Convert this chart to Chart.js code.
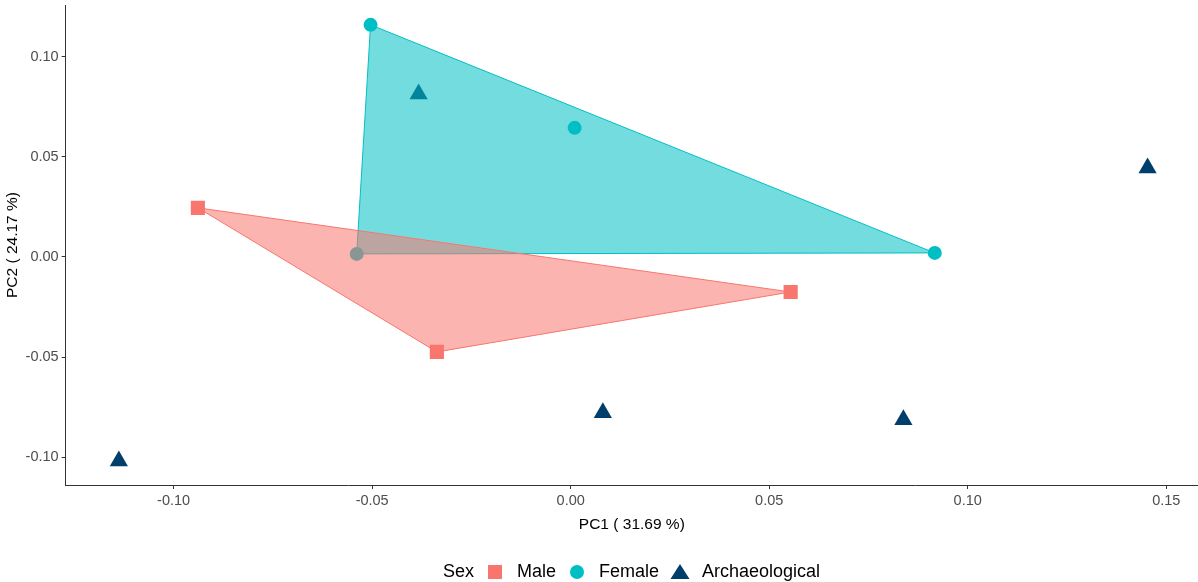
<!DOCTYPE html>
<html>
<head>
<meta charset="utf-8">
<script src="https://cdn.jsdelivr.net/npm/chart.js@4/dist/chart.umd.min.js"></script>
<style>
  html, body { margin: 0; padding: 0; background: #fff; }
  #wrap { width: 1198px; height: 582px; position: relative; }
</style>
</head>
<body>
<div id="wrap"><canvas id="pcaChart"></canvas></div>
<script>
// PCA scores
const maleX = [-0.0939, -0.0337, 0.0554];
const maleY = [0.0245, -0.0474, -0.0175];
const femaleX = [-0.0504, 0.0010, 0.0917, -0.0539];
const femaleY = [0.1158, 0.0644, 0.0020, 0.0015];
const archX = [-0.1138, -0.0383, 0.0081, 0.0838, 0.1453];
const archY = [-0.1018, 0.0813, -0.0778, -0.0813, 0.0444];

const xTicks = [-0.10, -0.05, 0.00, 0.05, 0.10, 0.15];
const yTicks = [-0.10, -0.05, 0.00, 0.05, 0.10];

const colors = {
  male: "#F8766D",
  female: "#00BFC4",
  arch: "#003F6B",
};
const FONT = "'Liberation Sans', Arial, sans-serif";

function toPoints(xs, ys) {
  return xs.map((x, i) => ({ x: x, y: ys[i] }));
}

// convex hull (monotone chain), closed by repeating the first vertex
function hull(points) {
  const p = [...points].sort((a, b) => a.x - b.x || a.y - b.y);
  const cross = (o, a, b) => (a.x - o.x) * (b.y - o.y) - (a.y - o.y) * (b.x - o.x);
  const lower = [];
  p.forEach((pt) => {
    while (lower.length >= 2 && cross(lower[lower.length - 2], lower[lower.length - 1], pt) <= 0) lower.pop();
    lower.push(pt);
  });
  const upper = [];
  [...p].reverse().forEach((pt) => {
    while (upper.length >= 2 && cross(upper[upper.length - 2], upper[upper.length - 1], pt) <= 0) upper.pop();
    upper.push(pt);
  });
  const h = lower.slice(0, -1).concat(upper.slice(0, -1));
  h.push(h[0]);
  return h;
}

function hexAlpha(hex, a) {
  const n = parseInt(hex.slice(1), 16);
  return `rgba(${(n >> 16) & 255}, ${(n >> 8) & 255}, ${n & 255}, ${a})`;
}

// small canvases used as legend keys
function keyCanvas(shape, color) {
  const c = document.createElement("canvas");
  c.width = 20;
  c.height = 20;
  const ctx = c.getContext("2d");
  ctx.fillStyle = color;
  ctx.beginPath();
  if (shape === "rect") {
    ctx.rect(3, 3, 14, 14);
  } else if (shape === "circle") {
    ctx.arc(10, 10, 7, 0, Math.PI * 2);
  } else if (shape === "triangle") {
    ctx.moveTo(10, 2);
    ctx.lineTo(19.5, 17);
    ctx.lineTo(0.5, 17);
    ctx.closePath();
  }
  if (shape) ctx.fill();
  return c;
}

const male = toPoints(maleX, maleY);
const female = toPoints(femaleX, femaleY);
const arch = toPoints(archX, archY);

function pointSet(label, data, color, style, radius) {
  return {
    type: "scatter",
    label: label,
    data: data,
    pointStyle: style,
    pointRadius: radius,
    pointHoverRadius: radius,
    pointBackgroundColor: color,
    pointBorderWidth: 0,
    borderColor: color,
    order: 1,
  };
}

function hullSet(label, data, color) {
  return {
    type: "line",
    label: label,
    data: hull(data),
    borderColor: color,
    borderWidth: 1,
    backgroundColor: hexAlpha(color, 0.55),
    fill: "shape",
    pointRadius: 0,
    tension: 0,
    order: 0,
  };
}

function axisOptions(pos, min, max, ticks, title, titlePad) {
  return {
    type: "linear",
    position: pos,
    min: min,
    max: max,
    afterBuildTicks: (axis) => {
      axis.ticks = ticks.map((v) => ({ value: v }));
    },
    afterFit: (axis) => {
      axis.paddingTop = 0;
      axis.paddingBottom = 0;
      axis.paddingLeft = 0;
      axis.paddingRight = 0;
    },
    ticks: {
      color: "#4D4D4D",
      font: { family: FONT, size: 14.5 },
      padding: 3,
      autoSkip: false,
      maxRotation: 0,
      callback: (v) => Number(v).toFixed(2),
    },
    grid: {
      drawOnChartArea: false,
      drawTicks: true,
      tickLength: 4,
      color: "#333333",
    },
    border: { display: true, color: "#333333", width: 1 },
    title: {
      display: true,
      text: title,
      color: "#000",
      font: { family: FONT, size: 15.5 },
      padding: titlePad,
    },
  };
}

new Chart(document.getElementById("pcaChart"), {
  type: "scatter",
  data: {
    datasets: [
      hullSet("Male hull", male, colors.male),
      hullSet("Female hull", female, colors.female),
      pointSet("Male", male, colors.male, "rect", 10),
      pointSet("Female", female, colors.female, "circle", 7),
      pointSet("Archaeological", arch, colors.arch, "triangle", 10.5),
    ],
  },
  options: {
    responsive: true,
    maintainAspectRatio: false,
    animation: false,
    layout: { autoPadding: false, padding: { top: 5, right: 0, left: 0, bottom: -9 } },
    scales: {
      x: axisOptions("bottom", -0.1272, 0.158, xTicks, "PC1 ( 31.69 %)", { top: 3, bottom: 21 }),
      y: axisOptions("left", -0.1138, 0.1257, yTicks, "PC2 ( 24.17 %)", { top: 3, bottom: 1 }),
    },
    plugins: {
      tooltip: { enabled: false },
      legend: {
        position: "bottom",
        onClick: null,
        labels: {
          usePointStyle: true,
          boxHeight: 18,
          pointStyleWidth: 26,
          padding: 8,
          color: "#000",
          font: { family: FONT, size: 18 },
          generateLabels: () => [
            { text: "\u00a0".repeat(6) + "Sex", pointStyle: keyCanvas(null, "#000"), lineWidth: 0, hidden: false },
            { text: "Male", pointStyle: keyCanvas("rect", colors.male), lineWidth: 0, hidden: false },
            { text: "Female", pointStyle: keyCanvas("circle", colors.female), lineWidth: 0, hidden: false },
            { text: "Archaeological", pointStyle: keyCanvas("triangle", colors.arch), lineWidth: 0, hidden: false },
          ],
        },
      },
    },
  },
});
</script>
</body>
</html>
